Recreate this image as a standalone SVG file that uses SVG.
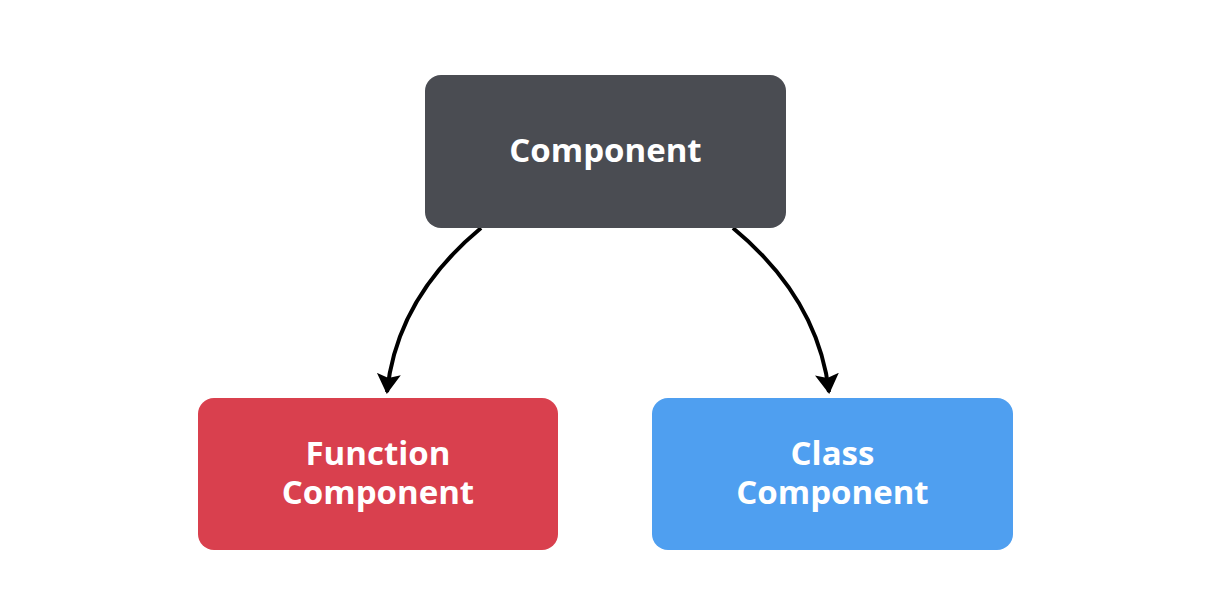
<svg xmlns="http://www.w3.org/2000/svg" width="1218" height="593" viewBox="0 0 1218 593">
<style>
.lbl{font-family:"Open Sans","Noto Sans","DejaVu Sans",sans-serif;font-weight:bold;font-size:33px;fill:#ffffff;text-anchor:middle}
.edge{fill:none;stroke:#000000;stroke-width:4}
</style>
<defs>
<marker id="arr" viewBox="0 0 10 12" refX="9" refY="6" markerWidth="5" markerHeight="6" orient="auto" markerUnits="strokeWidth">
<path d="M0,0 L10,6 L0,12 L2,6 z" fill="#000000"/>
</marker>
</defs>
<rect width="1218" height="593" fill="#ffffff"/>
<g id="connectors">
<path class="edge" d="M481,228 C440,262 395,315 387,392" marker-end="url(#arr)"/>
<path class="edge" d="M733,228 C774,262 820,315 829,392" marker-end="url(#arr)"/>
</g>
<g id="component">
<rect x="425" y="75" width="361" height="153" rx="16" fill="#4a4c52"/>
<text class="lbl" x="605.5" y="162">Component</text>
</g>
<g id="function-component">
<rect x="198" y="398" width="360" height="152" rx="16" fill="#d9404e"/>
<text class="lbl" x="378" y="465">Function</text>
<text class="lbl" x="378" y="504">Component</text>
</g>
<g id="class-component">
<rect x="652" y="398" width="361" height="152" rx="16" fill="#4f9ff0"/>
<text class="lbl" x="832.5" y="465">Class</text>
<text class="lbl" x="832.5" y="504">Component</text>
</g>
</svg>
